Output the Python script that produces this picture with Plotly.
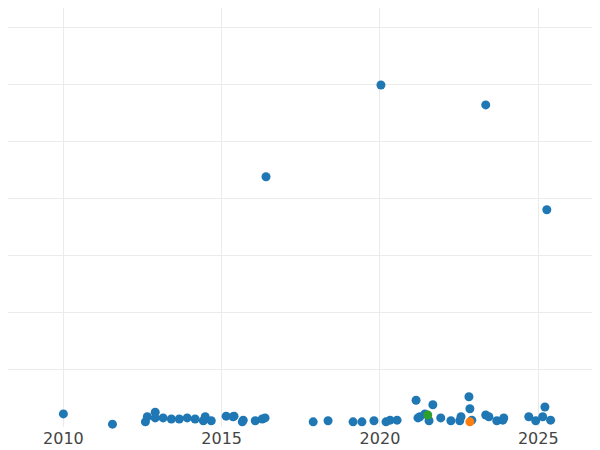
import plotly.graph_objects as go

years_blue = [2010.0, 2011.55, 2012.59, 2012.65, 2012.90, 2012.90, 2013.15, 2013.41, 2013.66, 2013.91, 2014.16, 2014.42, 2014.48, 2014.67,
              2015.14, 2015.36, 2015.39, 2015.68, 2015.65, 2016.06, 2016.28, 2016.37, 2016.40,
              2017.89, 2018.36, 2019.15, 2019.43, 2019.81, 2020.03, 2020.19, 2020.32, 2020.54,
              2021.14, 2021.20, 2021.26, 2021.42, 2021.55, 2021.67, 2021.92, 2022.24, 2022.52, 2022.56,
              2022.81, 2022.84, 2022.90, 2023.34, 2023.34, 2023.44, 2023.69, 2023.88, 2023.91,
              2024.70, 2024.92, 2025.14, 2025.21, 2025.27, 2025.39]
vals_blue = [23, 5, 9, 18, 26, 16, 16, 14, 14, 16, 14, 11, 18, 11,
             19, 18, 19, 12, 9, 11, 14, 16, 439,
             9, 11, 9, 9, 11, 600, 9, 12, 12,
             47, 16, 18, 23, 11, 39, 16, 11, 11, 18,
             53, 32, 12, 565, 21, 18, 11, 12, 16,
             18, 11, 18, 35, 381, 12]
years_green = [2021.51]
vals_green = [21]
years_orange = [2022.84]
vals_orange = [9]

fig = go.Figure()
for xs, ys, c in [(years_blue, vals_blue, "#1f77b4"), (years_green, vals_green, "#2ca02c"), (years_orange, vals_orange, "#ff7f0e")]:
    fig.add_trace(go.Scatter(x=xs, y=ys, mode="markers", marker=dict(size=9, color=c), cliponaxis=False, showlegend=False))

fig.update_layout(width=592, height=442, margin=dict(l=0, r=0, t=0, b=23),
                  plot_bgcolor="white", paper_bgcolor="white",
                  font=dict(family="DejaVu Sans", size=16, color="#444"))
fig.update_xaxes(range=[2008.25, 2026.95], tickvals=[2010, 2015, 2020, 2025], showgrid=True, gridcolor="#ebebeb",
                 zeroline=False, showline=False, ticks="")
fig.update_yaxes(range=[0, 735], dtick=100, showgrid=True, gridcolor="#ebebeb", showticklabels=False, zeroline=False)
fig.write_html("out.html")
